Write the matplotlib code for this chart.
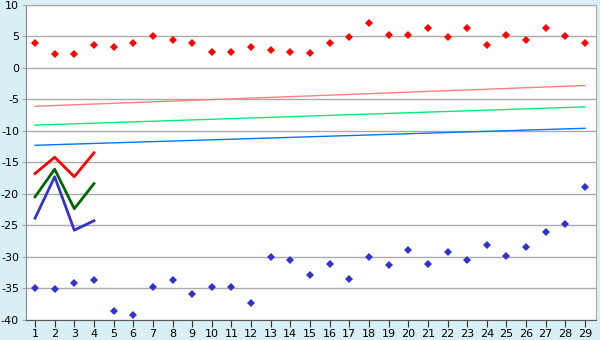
import numpy as np
import matplotlib
matplotlib.use('Agg')
import matplotlib.pyplot as plt

plt.rcParams['axes.unicode_minus'] = False

# category positions
days = list(range(1, 30))

# scatter series
red_points = [4.0, 2.2, 2.2, 3.7, 3.3, 4.0, 5.0, 4.4, 4.0, 2.6,
              2.5, 3.4, 2.8, 2.5, 2.3, 3.9, 4.9, 7.2, 5.3, 5.2,
              6.4, 4.9, 6.3, 3.7, 5.2, 4.4, 6.4, 5.0, 3.9]
blue_points = [-35.0, -35.2, -34.2, -33.7, -38.6, -39.3, -34.8, -33.7, -36.0, -34.8,
               -34.8, -37.3, -30.1, -30.6, -33.0, -31.1, -33.6, -30.0, -31.4, -29.0,
               -31.2, -29.3, -30.6, -28.2, -29.9, -28.5, -26.1, -24.8, -19.0]

# short line series (first four days)
line_days = [1, 2, 3, 4]
red_line = [-16.8, -14.2, -17.3, -13.5]
green_line = [-20.5, -16.1, -22.4, -18.4]
blue_line = [-23.9, -17.3, -25.8, -24.3]

# trend lines (start and end values)
trend_days = [1, 29]
trend_pink = [-6.1, -2.8]
trend_green = [-9.1, -6.2]
trend_blue = [-12.3, -9.6]

y_ticks = list(range(-40, 11, 5))

fig = plt.figure(figsize=(6, 3.4), dpi=100)
fig.patch.set_facecolor('#d9eff6')
ax = fig.add_axes([26 / 600, 1 - 319.5 / 340, 570 / 600, 314.5 / 340])
ax.set_facecolor('white')

# trend lines
ax.plot(trend_days, trend_pink, color='#ff8080', lw=1)
ax.plot(trend_days, trend_green, color='#00ee77', lw=1)
ax.plot(trend_days, trend_blue, color='#0077ee', lw=1)

# short lines
ax.plot(line_days, red_line, color='#ff0000', lw=2)
ax.plot(line_days, green_line, color='#006600', lw=2)
ax.plot(line_days, blue_line, color='#3333cc', lw=2)

# points
ax.plot(days, red_points, ls='none', marker='D', ms=4.5, color='#ff0000', mew=0)
ax.plot(days, blue_points, ls='none', marker='D', ms=4, color='#3333cc', mew=0)

ax.set_xlim(0.54, 29.56)
ax.set_ylim(-40, 10)
ax.set_xticks(days)
ax.set_yticks(y_ticks)
ax.grid(axis='y', color='#aaaaaa', lw=1)
ax.set_axisbelow(True)

for side in ['top', 'right']:
    ax.spines[side].set_color('#aaaaaa')
ax.spines['left'].set_color('#888888')
ax.spines['bottom'].set_color('#555555')
ax.tick_params(axis='x', length=5, color='#333333', labelsize=8, pad=2)
ax.tick_params(axis='y', length=3, color='#aaaaaa', labelsize=8, pad=2)

fig.savefig('out.png', dpi=100, facecolor=fig.get_facecolor())
